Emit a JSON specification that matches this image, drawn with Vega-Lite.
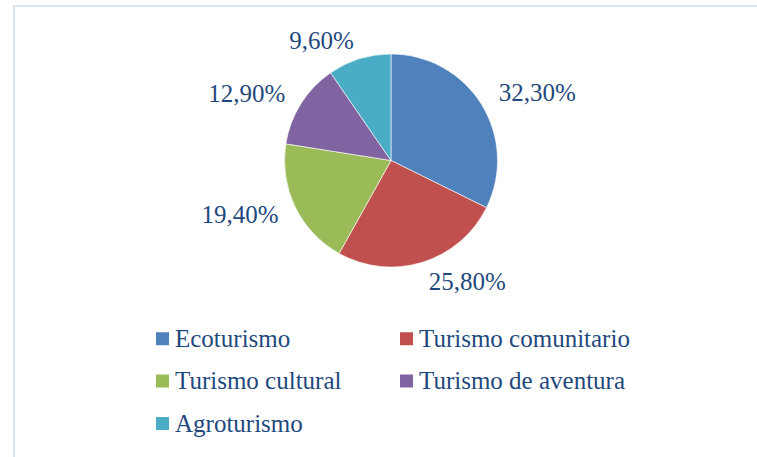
{
  "$schema": "https://vega.github.io/schema/vega-lite/v6.json",
  "width": 745,
  "height": 453,
  "autosize": "none",
  "padding": {"left": 14, "top": 6, "right": -2, "bottom": -2},
  "background": "#ffffff",
  "view": {"stroke": "#dae5f3", "strokeWidth": 2},
  "config": {
    "view": {"stroke": "#dae5f3", "strokeWidth": 2},
    "legend": {
      "symbolType": "square",
      "symbolSize": 169,
      "symbolStrokeWidth": 0,
      "symbolOpacity": 1,
      "labelFont": "Liberation Serif",
      "labelFontSize": 25,
      "labelColor": "#1F497D",
      "labelLimit": 500,
      "labelOffset": 0,
      "columns": 2,
      "columnPadding": 52,
      "rowPadding": 16.5,
      "padding": 0
    }
  },
  "data": {
    "values": [
      {"cat": "Ecoturismo", "v": 32.3, "label": "32,30%"},
      {"cat": "Turismo comunitario", "v": 25.8, "label": "25,80%"},
      {"cat": "Turismo cultural", "v": 19.4, "label": "19,40%"},
      {"cat": "Turismo de aventura", "v": 12.9, "label": "12,90%"},
      {"cat": "Agroturismo", "v": 9.6, "label": "9,60%"}
    ]
  },
  "transform": [{"window": [{"op": "row_number", "as": "k"}]}],
  "encoding": {
    "theta": {"field": "v", "type": "quantitative", "stack": true},
    "order": {"field": "k", "type": "quantitative"}
  },
  "layer": [
    {
      "mark": {"type": "arc", "outerRadius": 106.5, "xOffset": 4.5, "yOffset": -72, "stroke": "#ffffff", "strokeWidth": 0.6},
      "encoding": {
        "color": {
          "field": "cat",
          "type": "nominal",
          "scale": {
            "domain": ["Ecoturismo", "Turismo comunitario", "Turismo cultural", "Turismo de aventura", "Agroturismo"],
            "range": ["#4F81BD", "#C0504D", "#9BBB59", "#8064A2", "#4BACC6"]
          },
          "legend": {"title": null, "orient": "none", "legendX": 136, "legendY": 320, "direction": "horizontal"}
        }
      }
    },
    {
      "mark": {"type": "text", "radius": 127, "align": "left", "baseline": "middle", "xOffset": 4.5, "yOffset": -72, "font": "Liberation Serif", "fontSize": 25, "fill": "#1F497D"},
      "encoding": {
        "detail": {"field": "cat"},
        "text": {"condition": {"test": "datum.cat === 'Ecoturismo' || datum.cat === 'Turismo comunitario'", "field": "label"}, "value": ""}
      }
    },
    {
      "mark": {"type": "text", "radius": 125, "align": "right", "baseline": "middle", "xOffset": 4.5, "yOffset": -72, "font": "Liberation Serif", "fontSize": 25, "fill": "#1F497D"},
      "encoding": {
        "detail": {"field": "cat"},
        "text": {"condition": {"test": "datum.cat !== 'Ecoturismo' && datum.cat !== 'Turismo comunitario'", "field": "label"}, "value": ""}
      }
    }
  ]
}
